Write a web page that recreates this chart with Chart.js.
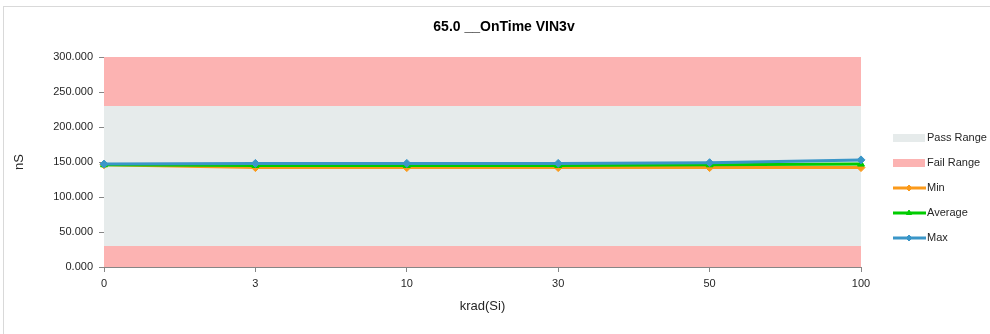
<!DOCTYPE html>
<html>
<head>
<meta charset="utf-8">
<script src="https://cdn.jsdelivr.net/npm/chart.js@4.4.1/dist/chart.umd.min.js"></script>
<style>
    html, body { margin: 0; padding: 0; background: #fff; overflow: hidden; }
    #frame { position: absolute; left: 3px; top: 6px; width: 1010px; height: 400px; border: 1px solid #d9d9d9; }
    #wrap { position: absolute; left: 0; top: 0; width: 990px; height: 334px; }
</style>
</head>
<body>
<div id="frame"></div>
<div id="wrap"><canvas id="Chart1" width="990" height="334"></canvas></div>
<script>
// krad(Si) dose steps
const doses = ['0', '3', '10', '30', '50', '100'];

// measured on-time, nS
const minVals = [146, 142, 142, 142, 142, 142];
const avgVals = [146, 145, 145, 145, 146, 147];
const maxVals = [147, 148, 148, 148, 149, 153];

// limit bands
const failLow = [30, 30, 30, 30, 30, 30];
const passHigh = [230, 230, 230, 230, 230, 230];
const failHigh = [300, 300, 300, 300, 300, 300];

const yMin = 0;
const yMax = 300;
const yStep = 50;

const chartTitle = '65.0 __OnTime VIN3v';

const FONT = '"Liberation Sans", Arial, sans-serif';
const passColor = '#e6ebeb';
const failColor = '#fcb3b2';

// title + legend drawn on the canvas
const extras = {
    id: 'extras',
    afterDraw(chart) {
        const ctx = chart.ctx;
        ctx.save();
        ctx.fillStyle = '#000';
        ctx.font = 'bold 14px ' + FONT;
        ctx.textAlign = 'center';
        ctx.textBaseline = 'middle';
        ctx.fillText(chartTitle, 504, 27);

        const items = [
            {label: 'Pass Range', box: passColor},
            {label: 'Fail Range', box: failColor},
            {label: 'Min', ds: chart.data.datasets[3]},
            {label: 'Average', ds: chart.data.datasets[4]},
            {label: 'Max', ds: chart.data.datasets[5]}
        ];
        ctx.font = '11px ' + FONT;
        ctx.textAlign = 'left';
        items.forEach(function (it, i) {
            const y = 138 + i * 25;
            if (it.box) {
                ctx.fillStyle = it.box;
                ctx.fillRect(893, y - 4, 32, 8);
            } else {
                ctx.strokeStyle = it.ds.borderColor;
                ctx.fillStyle = it.ds.borderColor;
                ctx.lineWidth = 3;
                ctx.beginPath();
                ctx.moveTo(893, y);
                ctx.lineTo(926, y);
                ctx.stroke();
                ctx.lineWidth = 1;
                Chart.helpers.drawPoint(ctx, {pointStyle: it.ds.pointStyle, radius: 3, borderWidth: 1}, 909, y);
            }
            ctx.fillStyle = '#262626';
            ctx.fillText(it.label, 927, y);
        });
        ctx.restore();
    }
};

function band(label, data, color, fill) {
    return {
        label: label,
        data: data,
        borderWidth: 0,
        pointRadius: 0,
        backgroundColor: color,
        borderColor: color,
        fill: fill,
        order: 10,
        tension: 0
    };
}

function series(label, data, color, style, order) {
    return {
        label: label,
        data: data,
        borderColor: color,
        backgroundColor: color,
        borderWidth: 3,
        pointStyle: style,
        pointRadius: 4,
        pointBorderWidth: 1,
        fill: false,
        order: order,
        tension: 0
    };
}

const ctx = document.getElementById('Chart1').getContext('2d');
new Chart(ctx, {
    type: 'line',
    data: {
        labels: doses,
        datasets: [
            band('Fail Low', failLow, failColor, 'origin'),
            band('Pass Range', passHigh, passColor, '-1'),
            band('Fail Range', failHigh, failColor, '-1'),
            series('Min', minVals, '#fb9a1a', 'rectRot', 3),
            series('Average', avgVals, '#00cc00', 'triangle', 2),
            series('Max', maxVals, '#3a96c8', 'rectRot', 1)
        ]
    },
    options: {
        responsive: false,
        animation: false,
        layout: {padding: {top: 57, right: 129, bottom: 0, left: 0}},
        plugins: {
            legend: {display: false},
            title: {display: false},
            tooltip: {enabled: false},
            filler: {drawTime: 'beforeDatasetsDraw'}
        },
        scales: {
            x: {
                type: 'category',
                offset: false,
                afterFit: function (s) { s.height = 67; },
                grid: {display: true, drawOnChartArea: false, color: '#868686', tickLength: 5},
                border: {display: true, color: '#868686'},
                ticks: {color: '#262626', font: {family: FONT, size: 11}, padding: 5, maxRotation: 0},
                title: {display: true, text: 'krad(Si)', color: '#262626', font: {family: FONT, size: 13}, padding: {top: 4, bottom: 20}}
            },
            y: {
                min: yMin,
                max: yMax,
                afterFit: function (s) { s.width = 104; },
                grid: {display: true, drawOnChartArea: false, color: '#868686', tickLength: 5},
                border: {display: true, color: '#868686'},
                ticks: {
                    stepSize: yStep,
                    color: '#262626',
                    font: {family: FONT, size: 11},
                    padding: 6,
                    callback: function (v) { return v.toFixed(3); }
                },
                title: {display: true, text: 'nS', color: '#262626', font: {family: FONT, size: 13}, padding: {top: 12, bottom: 0}}
            }
        }
    },
    plugins: [extras]
});
</script>
</body>
</html>
